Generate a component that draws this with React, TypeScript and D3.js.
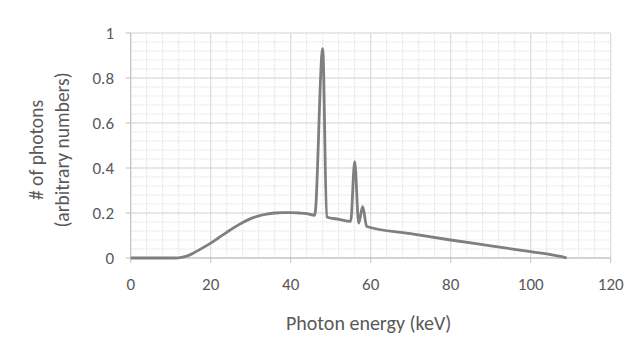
import React from "react";
import * as d3 from "d3";

const energy = [0, 5, 10, 12, 14, 16, 18, 20, 22, 24, 26, 28, 30, 32, 34, 36, 38, 40, 42, 44, 46, 48, 49, 52, 55, 56, 57, 58, 59, 70, 80, 90, 100, 105, 108, 109];
const photons = [0, 0, 0, 0.001, 0.008, 0.025, 0.045, 0.066, 0.09, 0.114, 0.137, 0.158, 0.175, 0.187, 0.195, 0.2, 0.202, 0.202, 0.2, 0.197, 0.19, 0.93, 0.182, 0.172, 0.163, 0.428, 0.155, 0.228, 0.14, 0.108, 0.08, 0.054, 0.028, 0.015, 0.005, 0];
const xTicks = [0, 20, 40, 60, 80, 100, 120];
const yTicks = [0, 0.2, 0.4, 0.6, 0.8, 1];
const xMinor = d3.range(0, 121, 4);
const yMinor = d3.range(0, 1.0001, 0.04);

export default function App() {
  const W = 641, H = 359;
  const x = d3.scaleLinear().domain([0, 120]).range([130.7, 610.7]);
  const y = d3.scaleLinear().domain([0, 1]).range([258, 33]);
  const pts = energy.map((e, i) => [e, photons[i]] as [number, number]);
  const line = d3.line<[number, number]>().x(d => x(d[0])).y(d => y(d[1])).curve(d3.curveMonotoneX);
  const font = "Calibri, Carlito, Lato, sans-serif";
  return (
    <svg width={W} height={H} style={{ position: "absolute", left: 0, top: 0, background: "#fff" }} fontFamily={font}>
      <rect width={W} height={H} fill="#fff" />
      {xMinor.map(v => (
        <line key={"xm" + v} x1={x(v)} x2={x(v)} y1={y(0)} y2={y(1)} stroke="#e4e4e4" strokeDasharray="2,1" />
      ))}
      {yMinor.map(v => (
        <line key={"ym" + v} x1={x(0)} x2={x(120)} y1={y(v)} y2={y(v)} stroke="#e4e4e4" strokeDasharray="2,1" />
      ))}
      {xTicks.map(v => (
        <line key={"xg" + v} x1={x(v)} x2={x(v)} y1={y(0)} y2={y(1)} stroke="#d9d9d9" />
      ))}
      {yTicks.map(v => (
        <line key={"yg" + v} x1={x(0)} x2={x(120)} y1={y(v)} y2={y(v)} stroke="#d9d9d9" />
      ))}
      <line x1={x(0)} x2={x(120)} y1={y(0)} y2={y(0)} stroke="#bfbfbf" />
      <line x1={x(0)} x2={x(0)} y1={y(0)} y2={y(1)} stroke="#bfbfbf" />
      {xTicks.map(v => (
        <line key={"xt" + v} x1={x(v)} x2={x(v)} y1={y(0)} y2={y(0) + 5} stroke="#bfbfbf" />
      ))}
      {yTicks.map(v => (
        <line key={"yt" + v} x1={x(0) - 5} x2={x(0)} y1={y(v)} y2={y(v)} stroke="#bfbfbf" />
      ))}
      <path d={line(pts) || ""} fill="none" stroke="#7f7f7f" strokeWidth={2.8} strokeLinejoin="round" />
      {xTicks.map(v => (
        <text key={"xl" + v} x={x(v)} y={290} textAnchor="middle" fontSize={17} fill="#595959">{v}</text>
      ))}
      {yTicks.map(v => (
        <text key={"yl" + v} x={114} y={y(v) + 6} textAnchor="end" fontSize={17} fill="#595959">{v}</text>
      ))}
      <text x={(x(0) + x(120)) / 2 - 2} y={330} textAnchor="middle" fontSize={20} fill="#595959">Photon energy (keV)</text>
      <g transform="translate(43,150) rotate(-90)">
        <text x={0} y={0} textAnchor="middle" fontSize={19.5} fill="#595959">
          # of photons
        </text>
        <text x={0} y={26} textAnchor="middle" fontSize={19.5} fill="#595959">
          (arbitrary numbers)
        </text>
      </g>
    </svg>
  );
}
